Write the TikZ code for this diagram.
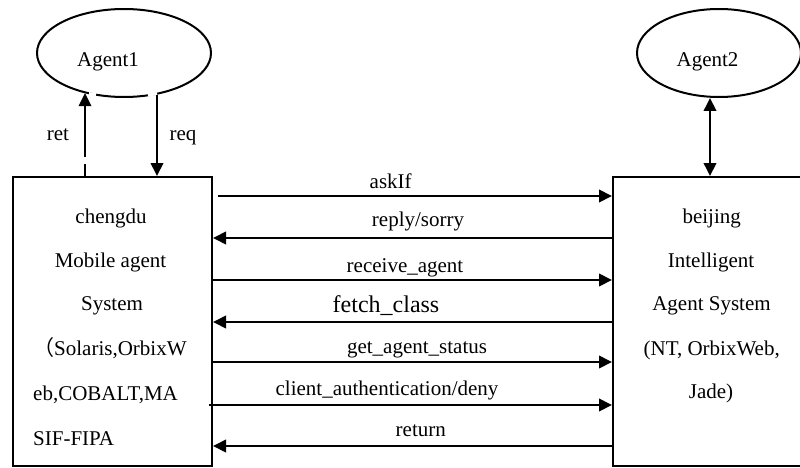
\documentclass[tikz,border=0pt]{standalone}
\usepackage{fontspec}
\setmainfont{Liberation Serif}
\newfontfamily\cjk{Noto Sans CJK SC}
\usetikzlibrary{arrows.meta,shapes.geometric}
\begin{document}
\begin{tikzpicture}[x=1pt,y=-1pt,
  lw/.style={line width=2pt},
  tip/.tip={Triangle[length=13pt,width=12.5pt]},
  arr/.style={lw,-tip},
  darr/.style={lw,tip-tip},
  ell/.style={draw,lw,ellipse,inner sep=0pt},
  sysbox/.style={draw,lw,rectangle,inner sep=0pt},
  txt/.style={font=\fontsize{21}{25}\selectfont,inner sep=0pt,anchor=base},
  ltxt/.style={txt,anchor=base west},
  big/.style={font=\fontsize{24}{28}\selectfont,inner sep=0pt,anchor=base},
  gap/.style={draw=white,line width=3pt}
  ]
\useasboundingbox (0,0) rectangle (800,468);
% agents
\node[ell,minimum width=174pt,minimum height=88pt] (a1) at (124,53) {};
\node[ell,minimum width=164pt,minimum height=88pt] (a2) at (719,53) {};
\node[txt] (a1t) at (108,67) {Agent1};
\node[txt] (a2t) at (707.5,67) {Agent2};
% boxes
\node[sysbox,minimum width=199pt,minimum height=289pt] (lb) at (112.5,321.5) {};
\node[sysbox,minimum width=207pt,minimum height=289pt] (rb) at (716.5,321.5) {};
% small breaks in the ellipse outline
\path[gap] (89,93.6) -- (96,94.6);
\path[gap] (148,95.3) -- (157,93.6);
% vertical connectors
\draw[arr] ([xshift=-27.5pt]lb.north) -- ([xshift=-27.5pt]lb.north |- a1.225);
\path[gap] ([xshift=-27.5pt,yshift=12pt]lb.north) -- ([xshift=-27.5pt,yshift=19pt]lb.north);
\draw[arr] ([xshift=44.5pt]lb.north |- a1.309) -- ([xshift=44.5pt]lb.north);
\draw[darr] ([xshift=-6.5pt]rb.north |- a2.south) -- ([xshift=-6.5pt]rb.north);
\node[txt] (ret) at (58,140.7) {ret};
\node[txt] (req) at (183,140.7) {req};
% horizontal connectors
\draw[arr] ([xshift=5pt,yshift=-20pt]lb.north east) -- ([yshift=-20pt]rb.north west);
\draw[arr] ([yshift=-62pt]rb.north west) -- ([yshift=-62pt]lb.north east);
\draw[arr] ([yshift=-104pt]lb.north east) -- ([yshift=-104pt]rb.north west);
\draw[arr] ([yshift=-146pt]rb.north west) -- ([yshift=-146pt]lb.north east);
\draw[arr] ([yshift=-186pt]lb.north east) -- ([yshift=-186pt]rb.north west);
\draw[arr] ([xshift=-4pt,yshift=-229pt]lb.north east) -- ([yshift=-229pt]rb.north west);
\draw[arr] ([yshift=-270pt]rb.north west) -- ([yshift=-270pt]lb.north east);
% connector labels
\node[txt] (l1) at (390.7,188.3) {askIf};
\node[txt] (l2) at (418,226.7) {reply/sorry};
\node[txt] (l3) at (405,272.7) {receive\_agent};
\node[big] (l4) at (386,312.7) {fetch\_class};
\node[txt] (l5) at (417,353.3) {get\_agent\_status};
\node[txt] (l6) at (387,395) {client\_authentication/deny};
\node[txt] (l7) at (420.8,436.7) {return};
% left box text
\node[txt] (c1) at (111,223) {chengdu};
\node[txt] (c2) at (110.5,267) {Mobile agent};
\node[txt] (c3) at (112,310) {System};
\node[ltxt] (c4) at (33,355) {{\cjk （}Solaris,OrbixW};
\node[ltxt] (c5) at (33,400) {eb,COBALT,MA};
\node[ltxt] (c6) at (33,445) {SIF-FIPA};
% right box text
\node[txt] (b1) at (711.7,223) {beijing};
\node[txt] (b2) at (711,267) {Intelligent};
\node[txt] (b3) at (711.5,310) {Agent System};
\node[txt] (b4) at (711.7,355) {(NT, OrbixWeb,};
\node[txt] (b5) at (711,398) {Jade)};
\end{tikzpicture}
\end{document}
